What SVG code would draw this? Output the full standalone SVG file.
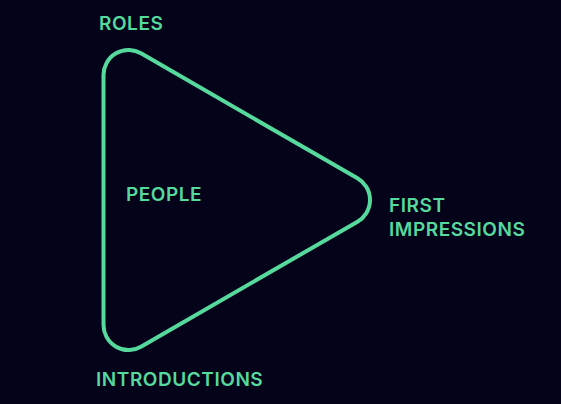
<svg xmlns="http://www.w3.org/2000/svg" width="561" height="404" viewBox="0 0 561 404">
<style>
.lbl{font-family:Inter,"Liberation Sans",sans-serif;font-weight:600;font-size:19px;letter-spacing:0.55px;fill:#55d99c}
.shape{fill:none;stroke:#55d99c;stroke-width:4;stroke-linejoin:round}
</style>
<rect width="561" height="404" fill="#05031a"/>
<g id="connectors"></g>
<g id="triangle">
<path class="shape" d="M103.5,75 A25,25 0 0 1 141,53.35 L357.5,178.35 A25,25 0 0 1 357.5,221.65 L141,346.65 A25,25 0 0 1 103.5,325 Z"/>
</g>
<g id="roles"><text class="lbl" x="99" y="30">ROLES</text></g>
<g id="people"><text class="lbl" x="126" y="201">PEOPLE</text></g>
<g id="first-impressions"><text class="lbl" x="389" y="212">FIRST</text><text class="lbl" x="389" y="236">IMPRESSIONS</text></g>
<g id="introductions"><text class="lbl" x="96" y="386">INTRODUCTIONS</text></g>
</svg>
